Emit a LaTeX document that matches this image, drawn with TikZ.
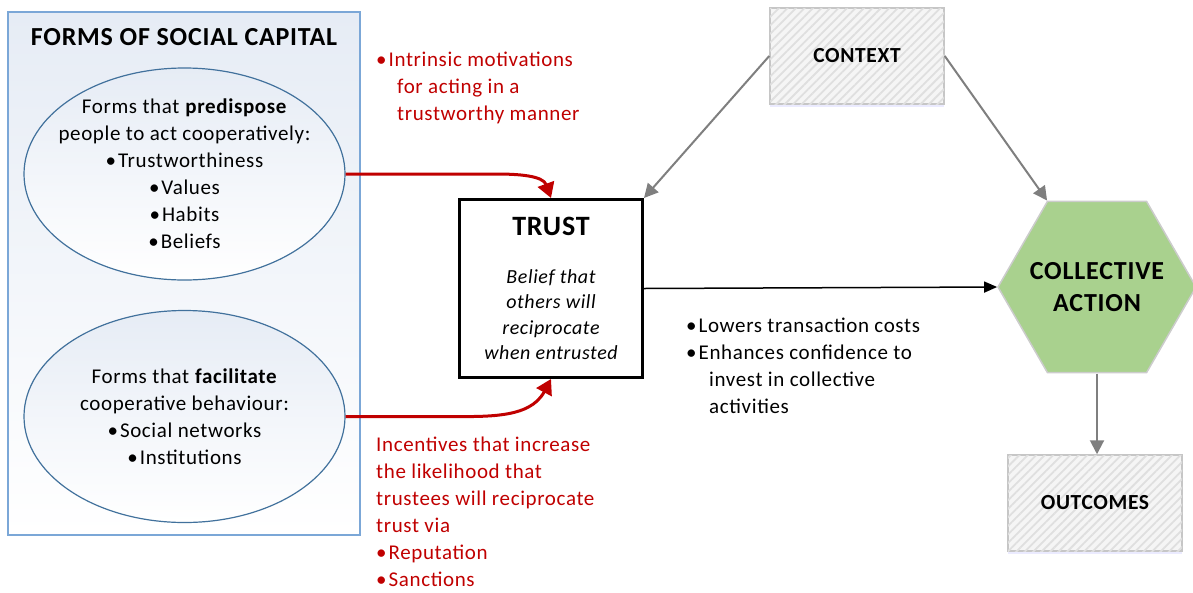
\documentclass[tikz,border=0pt]{standalone}
\usepackage{fontspec}
\setmainfont{Carlito}[LetterSpace=3]
\usetikzlibrary{positioning,shapes.geometric,arrows.meta,patterns.meta,shadows}

\definecolor{darkred}{HTML}{C00000}
\definecolor{frameblue}{HTML}{7BA7D7}
\definecolor{ellblue}{HTML}{41719C}
\definecolor{paleblue}{HTML}{E6ECF5}
\definecolor{leafgreen}{HTML}{A9D18E}
\definecolor{arrowgray}{HTML}{7F7F7F}

\newcommand{\bul}{\textbullet\hspace{2pt}}

\begin{document}
\begin{tikzpicture}[x=1pt, y=1pt,
  formell/.style={ellipse, draw=ellblue, line width=1.2pt, top color=paleblue, bottom color=white,
    minimum width=321pt, minimum height=212pt, inner sep=0pt},
  formtext/.style={align=center, inner sep=0pt, font=\fontsize{21}{27}\selectfont},
  hatchbox/.style={draw=gray!45, line width=1.5pt, fill=gray!8,
    postaction={pattern={Lines[angle=45,distance=6pt,line width=1.8pt]}, pattern color=gray!25},
    drop shadow={shadow xshift=0pt, shadow yshift=-3pt, fill=blue!20, opacity=0.4},
    minimum width=174pt, minimum height=96pt, font=\fontsize{21.5}{24}\selectfont\bfseries},
  redlink/.style={darkred, line width=3pt, -{Triangle[length=15pt,width=17pt]}},
  greylink/.style={arrowgray, line width=2pt, -{Triangle[length=14pt,width=14pt]}},
  redtext/.style={darkred, align=left, anchor=north west, inner sep=0pt,
    font=\fontsize{21}{27}\selectfont}]

  \useasboundingbox (0,0) rectangle (1193,-592);

  % Left panel with the two forms
  \node[draw=frameblue, line width=1.2pt, top color=paleblue, bottom color=white,
        minimum width=352pt, minimum height=523pt] (capital) at (184,-273.5) {};
  \node[font=\fontsize{26}{30}\selectfont\bfseries] (title) at (184,-37) {FORMS OF SOCIAL CAPITAL};

  \node[formell] (pred) at (184.5,-174) {};
  \node[formtext] (predtext) at (pred) {Forms that \textbf{predispose}\\people to act cooperatively:\\
    \bul Trustworthiness\\\bul Values\\\bul Habits\\\bul Beliefs};
  \node[formell] (fac) at (184.5,-416.5) {};
  \node[formtext] (factext) at (fac) {Forms that \textbf{facilitate}\\cooperative behaviour:\\
    \bul Social networks\\\bul Institutions};

  % Trust box in the middle
  \node[draw, line width=3pt, minimum width=183pt, minimum height=178pt, align=center,
        font=\fontsize{20}{25.5}\selectfont\itshape] (trust) at (551,-288.5)
    {{\upshape\bfseries\fontsize{28}{30}\selectfont TRUST}\\[22pt]Belief that\\others will\\reciprocate\\when entrusted};

  % Context, collective action and outcomes
  \node[hatchbox] (context) at (857,-56) {CONTEXT};
  \node[regular polygon, regular polygon sides=6, minimum size=198pt, inner sep=0pt,
        fill=leafgreen, draw=gray!40, line width=1.5pt] (hex) at (1097,-287) {};
  \node[align=center, inner sep=0pt, font=\fontsize{26}{32}\selectfont\bfseries]
    (hextext) at (hex) {COLLECTIVE\\ACTION};
  \node[hatchbox] (outcomes) at (1095,-503) {OUTCOMES};

  % Red notes beside the links
  \node[redtext] (intrinsic) at (376,-52) {\bul Intrinsic motivations\\
    \hspace{21pt}for acting in a\\\hspace{21pt}trustworthy manner};
  \node[redtext] (incentives) at (376,-437) {Incentives that increase\\the likelihood that\\
    trustees will reciprocate\\trust via\\\bul Reputation\\\bul Sanctions};

  % Effects of trust
  \node[align=left, anchor=north west, inner sep=0pt, font=\fontsize{21}{27}\selectfont]
    (gains) at (686,-318) {\bul Lowers transaction costs\\\bul Enhances confidence to\\
    \hspace{23pt}invest in collective\\\hspace{23pt}activities};

  % Links
  \draw[redlink] (pred.east) -- ++(150,0) to[out=0, in=110] (trust.north);
  \draw[redlink] (fac.east) -- ++(95,0) to[out=0, in=-118] (trust.south);
  \draw[greylink] (context.west) -- (trust.north east);
  \draw[greylink] (context.east) -- (hex.120);
  \draw[line width=1.5pt, -{Triangle[length=13pt,width=11pt]}] (trust.east) -- (hex.west);
  \draw[greylink] (hex.south) -- (hex.south |- outcomes.north);

\end{tikzpicture}
\end{document}
